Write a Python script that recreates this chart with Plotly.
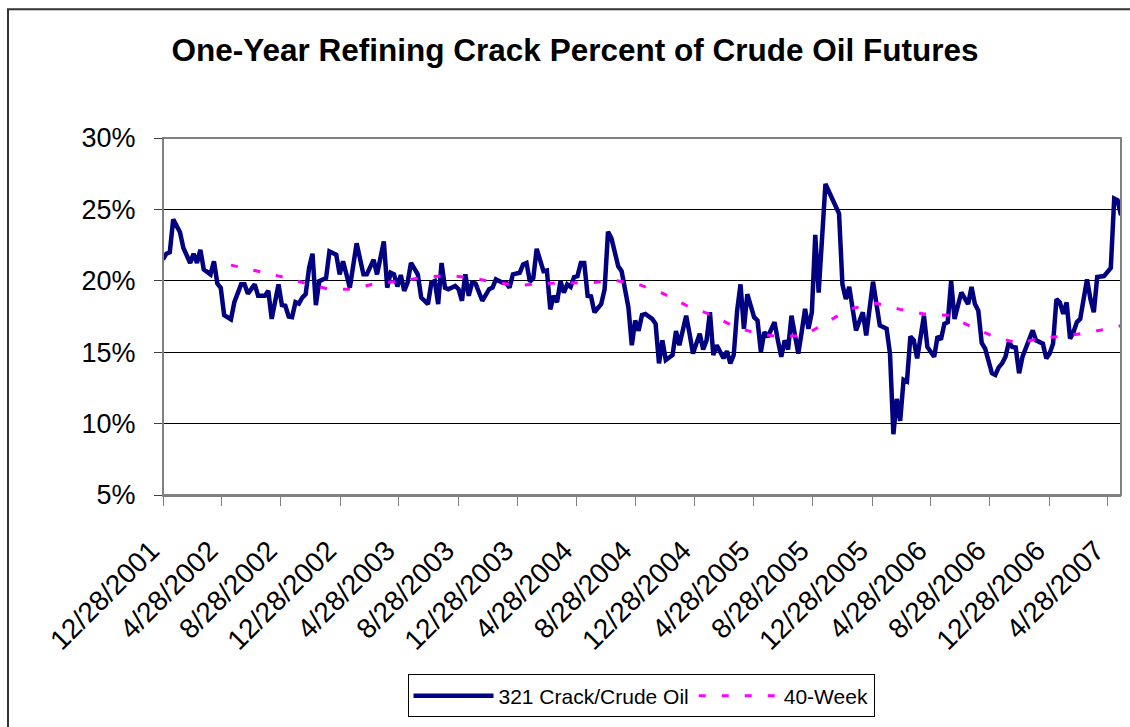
import pandas as pd
import plotly.graph_objects as go

start_date = "2001-12-28"
end_week = 282

tick_labels = ["12/28/2001", "4/28/2002", "8/28/2002", "12/28/2002", "4/28/2003",
               "8/28/2003", "12/28/2003", "4/28/2004", "8/28/2004", "12/28/2004",
               "4/28/2005", "8/28/2005", "12/28/2005", "4/28/2006", "8/28/2006",
               "12/28/2006", "4/28/2007"]
y_ticks = [5, 10, 15, 20, 25, 30]
y_tick_labels = ["5%", "10%", "15%", "20%", "25%", "30%"]

# 321 crack / crude oil, weeks since 12/28/2001 and percent
crack_weeks = [0, 1, 2, 3, 5, 6, 8, 9, 10, 11, 12, 14, 15, 16, 17, 18, 20, 21, 23, 24,
               25, 27, 28, 30, 31, 32, 34, 35, 36, 37, 38, 39, 40, 41, 42, 43, 44, 45, 46, 48,
               49, 51, 52, 53, 55, 57, 59, 60, 62, 63, 65, 66, 67, 68, 69, 70, 71, 72, 73, 75,
               76, 78, 79, 80, 81, 82, 83, 84, 86, 87, 88, 89, 90, 91, 92, 93, 94, 96, 97, 98,
               100, 101, 102, 103, 105, 106, 107, 108, 109, 110, 112, 113, 114, 115, 116, 117, 118, 119, 120, 121,
               122, 123, 124, 125, 126, 127, 129, 130, 131, 132, 134, 135, 137, 138, 139, 140, 141, 142, 144, 145,
               146, 147, 148, 150, 151, 152, 154, 155, 156, 158, 159, 160, 161, 162, 163, 165, 166, 167, 168, 169,
               170, 171, 172, 174, 175, 176, 177, 178, 180, 181, 182, 183, 184, 185, 187, 188, 189, 190, 191, 192,
               193, 195, 197, 199, 200, 201, 202, 204, 206, 207, 209, 211, 212, 213, 214, 215, 216, 217, 218, 219,
               220, 221, 222, 224, 225, 227, 228, 229, 230, 231, 232, 233, 235, 236, 237, 238, 239, 240, 241, 242,
               244, 245, 246, 247, 248, 249, 250, 251, 252, 253, 255, 256, 257, 259, 260, 261, 262, 263, 264, 265,
               266, 267, 268, 269, 270, 272, 273, 274, 275, 277, 279, 280, 281, 282]
crack_pct = [21.5, 21.9, 22.0, 24.3, 23.4, 22.3, 21.25, 21.9, 21.25, 22.17, 20.8, 20.45, 21.37, 19.8, 19.5, 17.6, 17.3, 18.5, 19.75, 19.75,
             19.1, 19.75, 18.95, 18.95, 19.3, 17.33, 19.75, 18.3, 18.25, 17.5, 17.45, 18.5, 18.4, 18.83, 19.06, 20.9, 21.9, 18.3, 19.98, 20.2,
             22.06, 21.83, 20.45, 21.37, 19.52, 22.63, 20.45, 20.45, 21.48, 20.45, 22.75, 19.52, 20.56, 20.45, 19.6, 20.4, 19.3, 19.87, 21.25, 20.45,
             18.83, 18.37, 19.87, 19.98, 18.37, 21.25, 19.52, 19.41, 19.64, 19.41, 18.6, 20.45, 18.95, 19.87, 19.8, 19.29, 18.6, 19.41, 19.52, 20.1,
             19.87, 19.87, 19.52, 20.45, 20.56, 21.14, 21.25, 19.94, 20.2, 22.24, 20.67, 20.72, 18.0, 18.95, 18.5, 19.98, 19.18, 19.75, 19.57, 20.26,
             20.33, 21.25, 21.25, 18.95, 18.9, 17.8, 18.37, 19.41, 23.44, 22.98, 21.02, 20.67, 18.14, 15.49, 17.22, 16.5, 17.6, 17.68, 17.33, 16.99,
             14.22, 15.83, 14.45, 14.8, 16.48, 15.49, 17.56, 16.3, 14.9, 16.3, 15.19, 15.83, 17.8, 14.8, 15.49, 14.57, 15.07, 14.22, 14.8, 17.91,
             19.75, 16.64, 19.06, 17.45, 17.22, 15.03, 16.41, 16.06, 17.1, 15.83, 14.68, 15.83, 15.19, 17.56, 14.9, 16.41, 18.03, 16.64, 17.8, 23.21,
             19.17, 26.78, 25.75, 24.71, 19.75, 18.72, 19.57, 16.53, 17.8, 16.18, 19.94, 16.87, 16.76, 16.64, 14.9, 9.26, 11.73, 10.19, 13.07, 12.95,
             16.11, 15.83, 14.57, 17.56, 15.37, 14.68, 16.11, 15.88, 16.99, 17.1, 19.98, 17.33, 19.18, 18.83, 18.37, 19.57, 18.37, 17.91, 15.65, 15.26,
             13.53, 13.41, 13.94, 14.22, 14.68, 15.72, 15.37, 15.33, 13.53, 14.68, 16.06, 16.53, 15.83, 15.6, 14.57, 14.91, 15.6, 18.72, 18.49, 17.68,
             18.49, 15.95, 16.41, 17.1, 17.33, 20.1, 18.72, 17.8, 20.26, 20.33, 20.9, 25.75, 25.63, 24.59]

# 40-week average
avg_weeks = [20, 28, 35, 42, 49, 56, 63, 70, 77, 84, 91, 98, 105, 112, 119, 126, 133, 140, 147, 154,
             161, 168, 175, 182, 189, 196, 202, 210, 217, 224, 231, 237, 244, 252, 258, 265, 272, 279, 282]
avg_pct = [21.1, 20.68, 20.28, 19.82, 19.4, 19.4, 19.85, 19.96, 20.26, 20.37, 20.21, 19.87, 19.68, 19.82, 19.82, 19.87, 20.03, 19.75, 19.13, 18.28,
           17.65, 16.82, 16.29, 16.06, 16.2, 17.17, 18.02, 18.42, 18.0, 17.68, 17.59, 16.89, 16.15, 15.6, 15.99, 16.11, 16.36, 16.69, 16.85]

t0 = pd.Timestamp(start_date)
crack_dates = [t0 + pd.Timedelta(weeks=w) for w in crack_weeks]
avg_dates = [t0 + pd.Timedelta(weeks=w) for w in avg_weeks]
tick_dates = [pd.to_datetime(s, format="%m/%d/%Y") for s in tick_labels]
x_end = t0 + pd.Timedelta(weeks=end_week)

FONT = "Liberation Sans, Arial, sans-serif"

fig = go.Figure()
fig.add_trace(go.Scatter(x=crack_dates, y=crack_pct, mode="lines", name="321 Crack/Crude Oil",
                         line=dict(color="#000080", width=4.5)))
fig.add_trace(go.Scatter(x=avg_dates, y=avg_pct, mode="lines", name="40-Week",
                         line=dict(color="#FF00FF", width=3, dash="7px,16px")))

W, H = 1130, 727
L, R, T, B = 163, 9, 138, 227
pw, ph = W - L - R, H - T - B

fig.update_layout(
    width=W, height=H,
    margin=dict(l=L, r=R, t=T, b=B),
    paper_bgcolor="white", plot_bgcolor="white",
    font=dict(family=FONT, color="black"),
    title=dict(text="<b>One-Year Refining Crack Percent of Crude Oil Futures</b>",
               font=dict(family=FONT, size=31.5, color="black"),
               x=575 / W, xanchor="center", xref="container",
               y=1 - 50 / H, yanchor="middle", yref="container"),
    showlegend=True,
    legend=dict(orientation="h", x=(641 - L) / pw, xanchor="center",
                y=(H - B - 682) / ph, yanchor="top",
                bordercolor="black", borderwidth=1, bgcolor="white",
                font=dict(family=FONT, size=21, color="black"),
                itemwidth=80, tracegroupgap=0),
    xaxis=dict(type="date", range=[t0, x_end], tickvals=tick_dates, ticktext=tick_labels,
               tickangle=-45, tickfont=dict(family=FONT, size=28, color="black"),
               ticklabelstandoff=17, ticklabelshift=-12,
               showgrid=False, zeroline=False,
               showline=True, linecolor="#808080", linewidth=2,
               ticks="outside", ticklen=9, tickcolor="#808080", tickwidth=1),
    yaxis=dict(range=[5, 30], tickvals=y_ticks, ticktext=y_tick_labels,
               tickfont=dict(family=FONT, size=27, color="black"),
               ticklabelstandoff=13,
               showgrid=True, gridcolor="black", gridwidth=1, zeroline=False,
               showline=True, linecolor="#404040", linewidth=1,
               ticks="outside", ticklen=8, tickcolor="#404040", tickwidth=1),
)

# plot-area border and outer chart frame
fig.add_shape(type="rect", xref="paper", yref="paper", x0=0, x1=1, y0=0, y1=1,
              line=dict(color="#808080", width=2), layer="above")
fig.add_shape(type="rect", xref="paper", yref="paper",
              x0=(8 - L) / pw, x1=(W + 10 - L) / pw,
              y0=(H - B - (H + 10)) / ph, y1=(H - B - 7.5) / ph,
              line=dict(color="#333333", width=2), layer="above")

fig.write_html("out.html")
